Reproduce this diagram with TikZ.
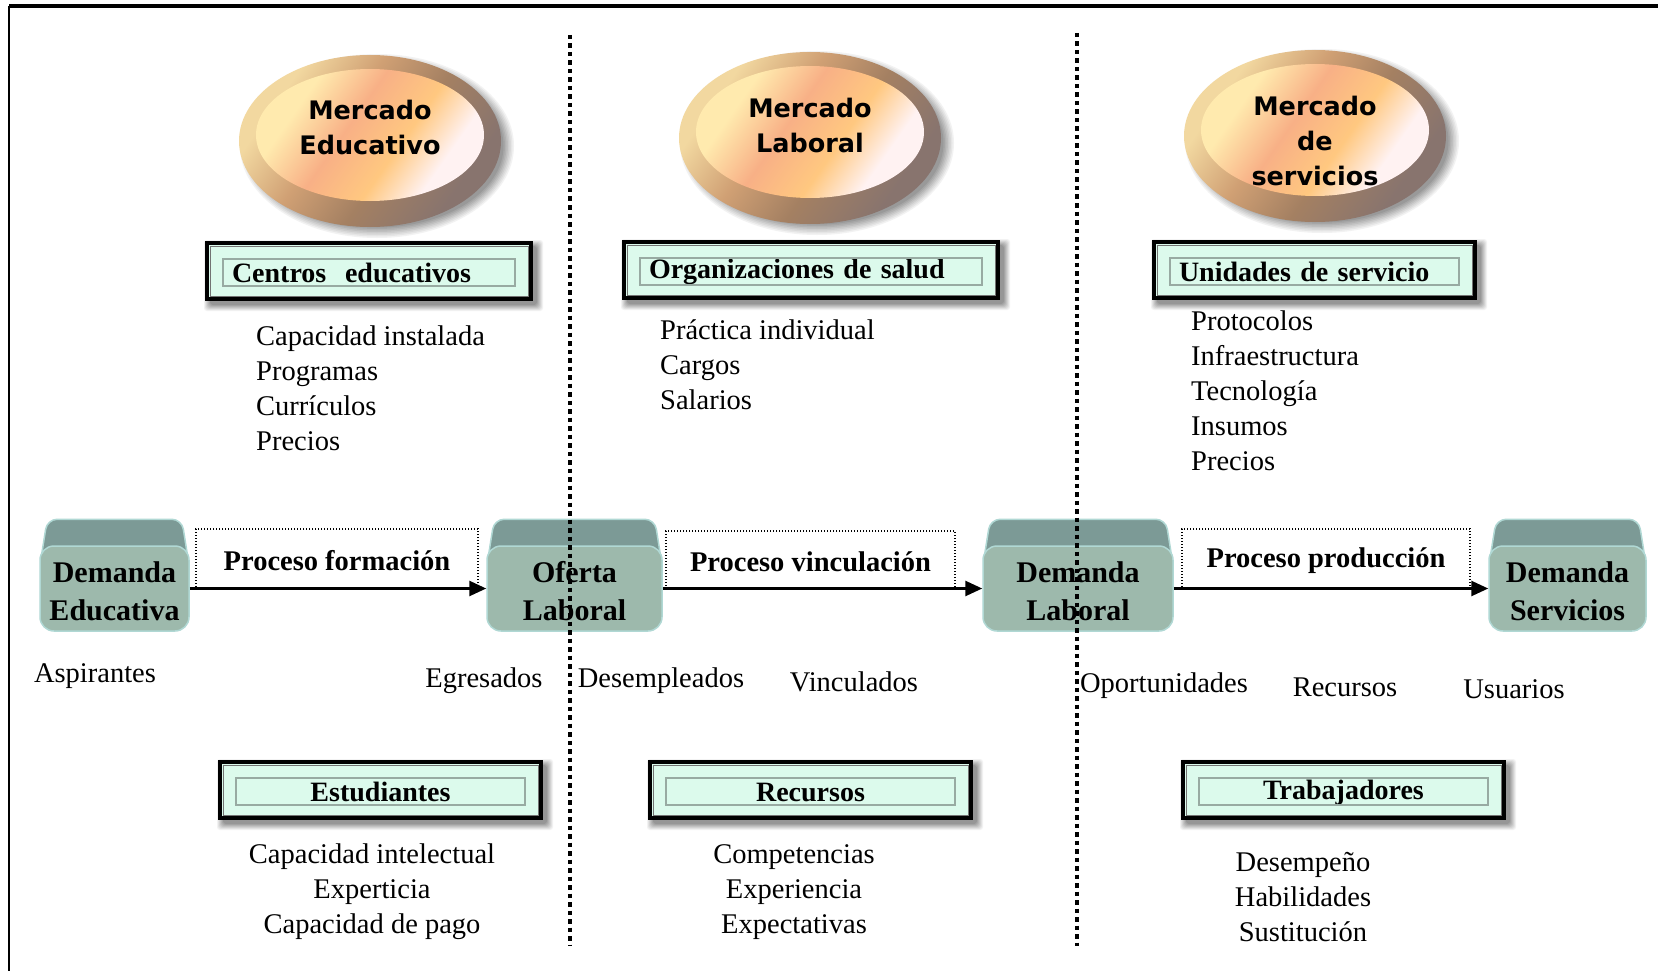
\documentclass[tikz,border=0pt]{standalone}
\usepackage{fontspec}
\setmainfont{Liberation Serif}
\newfontfamily\ellfont{DejaVu Sans}
\usetikzlibrary{shapes.geometric,arrows.meta,calc,backgrounds}

\definecolor{mint}{HTML}{DCFAEC}
\definecolor{boxfront}{HTML}{9DB9AC}
\definecolor{boxtop}{HTML}{7C9A96}
\definecolor{boxhl}{HTML}{B0D8D4}
\definecolor{ringA}{HTML}{F2D8A0}
\definecolor{ringB}{HTML}{D0A074}
\definecolor{ringC}{HTML}{A48062}
\definecolor{ringD}{HTML}{88746E}
\definecolor{peachA}{HTML}{FFEAAE}
\definecolor{peachB}{HTML}{F8B086}
\definecolor{peachC}{HTML}{FFC880}
\definecolor{peachD}{HTML}{FFF2F2}
\definecolor{panelgray}{HTML}{98AAA2}

\pgfdeclarehorizontalshading{ringshade}{100bp}{color(0bp)=(ringA); color(28bp)=(ringA); color(42bp)=(ringB); color(56bp)=(ringC); color(72bp)=(ringD); color(100bp)=(ringD)}
\pgfdeclarehorizontalshading{peachshade}{100bp}{color(0bp)=(peachA); color(30bp)=(peachA); color(44bp)=(peachB); color(58bp)=(peachC); color(70bp)=(peachD); color(100bp)=(peachD)}

\newcommand\tstrut{\rule[-3pt]{0pt}{25pt}}
\newcommand\hstrut{\rule[-1pt]{0pt}{25pt}}
\newcommand\bstrut{\rule[-2pt]{0pt}{29pt}}
\newcommand\estrut{\rule[-2.5pt]{0pt}{23.5pt}}

\begin{document}
\begin{tikzpicture}[x=1pt, y=-1pt,
  mkt/.style={ellipse, minimum width=262pt, minimum height=172pt, inner sep=0pt,
    shading=ringshade, shading angle=-35},
  mktin/.style={ellipse, minimum width=228pt, minimum height=132pt, inner sep=0pt,
    shading=peachshade, shading angle=-35},
  mkttext/.style={font=\ellfont\bfseries\fontsize{25.5}{35}\selectfont, align=center, inner sep=0pt},
  tbox/.style={draw=black, line width=4pt, fill=mint, minimum height=56pt, inner xsep=25pt, inner ysep=0pt,
    font=\bfseries\fontsize{28}{34}\selectfont},
  tleft/.style={text width=#1, align=left},
  tcenter/.style={text width=#1, align=center},
  panel/.style={draw=panelgray, line width=1.2pt},
  innerline/.style={draw=black!55, line width=1pt},
  dbox/.style={rounded corners=14pt, fill=boxfront, draw=boxhl, line width=1.5pt, minimum height=85pt,
    align=center, inner sep=0pt, font=\bfseries\fontsize{30}{38}\selectfont},
  topface/.style={fill=boxtop, draw=boxhl, line width=1.5pt, rounded corners=10pt},
  proc/.style={draw, line width=1.3pt, dash pattern=on 1.4pt off 1.6pt, minimum height=60pt, inner sep=0pt,
    font=\bfseries\fontsize{28.5}{34}\selectfont},
  flow/.style={line width=2.6pt, -{Triangle[length=17pt, width=15pt]}},
  lbl/.style={font=\fontsize{28.5}{35}\selectfont, inner sep=0pt},
  sepline/.style={line width=3.5pt, dash pattern=on 4.5pt off 4pt},
]
\useasboundingbox (0,0) rectangle (1658,971);
\begin{pgfonlayer}{background}
  \fill[white] (0,0) rectangle (1658,971);
\end{pgfonlayer}

% frame
\coordinate (fa) at (9,6);
\coordinate (fb) at (1658,6);
\coordinate (fc) at (9,971);
\draw[line width=3.5pt] (fa) -- (fb);
\draw[line width=2pt] (fa) -- (fc);

% markets
\node[mkt] (m1) at (370,141) {};
\node[mktin] (m1i) at (370,135) {};
\node[mkttext] (m1t) at (370,128) {\estrut Mercado\\\estrut Educativo};

\node[mkt] (m2) at (810,138) {};
\node[mktin] (m2i) at (810,132) {};
\node[mkttext] (m2t) at (810,126) {\estrut Mercado\\\estrut Laboral};

\node[mkt] (m3) at (1315,136) {};
\node[mktin] (m3i) at (1315,130) {};
\node[mkttext] (m3t) at (1315,141) {\estrut Mercado\\\estrut de\\\estrut servicios};

\begin{pgfonlayer}{background}
\foreach \m in {m1,m2,m3} {
  \foreach \k [evaluate=\k as \c using int(5+5*\k)] in {0,...,7} {
    \fill[black!\c] ($(\m)+(7,5)$) ellipse [x radius={137-1.5*\k}, y radius={92-1.5*\k}];
  }
}
\end{pgfonlayer}

% title boxes
\node[tbox, tleft=274pt] (t1) at (369,271) {\hstrut Centros\ \ educativos};
\node[tbox, tleft=324pt] (t2) at (811,270) {\hstrut Organizaciones de salud};
\node[tbox, tleft=271pt] (t3) at (1314.5,270) {\hstrut Unidades de servicio};
\node[tbox, tcenter=271pt] (t4) at (380.5,790) {\hstrut Estudiantes};
\node[tbox, tcenter=271pt] (t5) at (810.5,790) {\hstrut Recursos};
\node[tbox, tcenter=271pt] (t6) at (1343.5,790) {\hstrut Trabajadores};
\foreach \t in {t1,t2,t3,t4,t5,t6} {
  \draw[innerline] ($(\t.north west)+(5,5)$) rectangle ($(\t.south east)+(-5,-5)$);
  \draw[panel] ($(\t.north west)+(18,18)$) rectangle ($(\t.south east)+(-18,-15)$);
}
\begin{pgfonlayer}{background}
\foreach \t in {t1,t2,t3,t4,t5,t6} {
  \foreach \k [evaluate=\k as \c using int(5+6*\k), evaluate=\k as \g using 6-\k] in {0,...,6} {
    \fill[black!\c, rounded corners=3pt] ($(\t.north west)+({5-\g},{5-\g})$) rectangle ($(\t.south east)+({4+\g},{4+\g})$);
  }
}
\end{pgfonlayer}

% lists
\node[lbl, align=left, anchor=west] (c1) at (256,388.5) {\tstrut Capacidad instalada\\\tstrut Programas\\\tstrut Currículos\\\tstrut Precios};
\node[lbl, align=left, anchor=west] (c2) at (660,365.3) {\tstrut Práctica individual\\\tstrut Cargos\\\tstrut Salarios};
\node[lbl, align=left, anchor=west] (c3) at (1191,390.8) {\tstrut Protocolos\\\tstrut Infraestructura\\\tstrut Tecnología\\\tstrut Insumos\\\tstrut Precios};
\node[lbl, align=center] (d1) at (372,891) {\tstrut Capacidad intelectual\\\tstrut Experticia\\\tstrut Capacidad de pago};
\node[lbl, align=center] (d2) at (794,891) {\tstrut Competencias\\\tstrut Experiencia\\\tstrut Expectativas};
\node[lbl, align=center] (d3) at (1303,897) {\tstrut Desempeño\\\tstrut Habilidades\\\tstrut Sustitución};

% process boxes
\node[proc, minimum width=282pt] (p1) at (337,559) {\hstrut Proceso formación};
\node[proc, minimum width=289pt, minimum height=58pt] (p2) at (810.5,560) {\hstrut Proceso vinculación};
\node[proc, minimum width=288pt] (p3) at (1326,559) {\hstrut Proceso producción};

% 3D boxes
\node[dbox, minimum width=149pt] (b1) at (114.5,588.5) {\bstrut Demanda\\\bstrut Educativa};
\node[dbox, minimum width=175pt] (b2) at (574.5,588.5) {\bstrut Oferta\\\bstrut Laboral};
\node[dbox, minimum width=190pt] (b3) at (1078,588.5) {\bstrut Demanda\\\bstrut Laboral};
\node[dbox, minimum width=157pt] (b4) at (1567.5,588.5) {\bstrut Demanda\\\bstrut Servicios};
\begin{pgfonlayer}{background}
\foreach \b in {b1,b2,b3,b4} {
  \path[topface] ($(\b.north west)+(1,18)$) -- ($(\b.north west)+(8,-26)$) -- ($(\b.north east)+(-8,-26)$) -- ($(\b.north east)+(-1,18)$) -- cycle;
}
\end{pgfonlayer}

% arrows
\draw[flow] (b1.east) -- (b2.west);
\draw[flow] (b2.east) -- (b3.west);
\draw[flow] (b3.east) -- (b4.west);

% labels
\node[lbl] (l1) at (95,675) {\tstrut Aspirantes};
\node[lbl] (l2) at (484,680) {\tstrut Egresados};
\node[lbl] (l3) at (661,680) {\tstrut Desempleados};
\node[lbl] (l4) at (854,682) {\tstrut Vinculados};
\node[lbl] (l5) at (1164,685) {\tstrut Oportunidades};
\node[lbl] (l6) at (1345,687) {\tstrut Recursos};
\node[lbl] (l7) at (1514,689) {\tstrut Usuarios};

% separators
\coordinate (s1a) at (570,35);
\coordinate (s1b) at (570,946);
\coordinate (s2a) at (1077,33);
\coordinate (s2b) at (1077,946);
\draw[sepline] (s1a) -- (s1b);
\draw[sepline] (s2a) -- (s2b);
\end{tikzpicture}
\end{document}
